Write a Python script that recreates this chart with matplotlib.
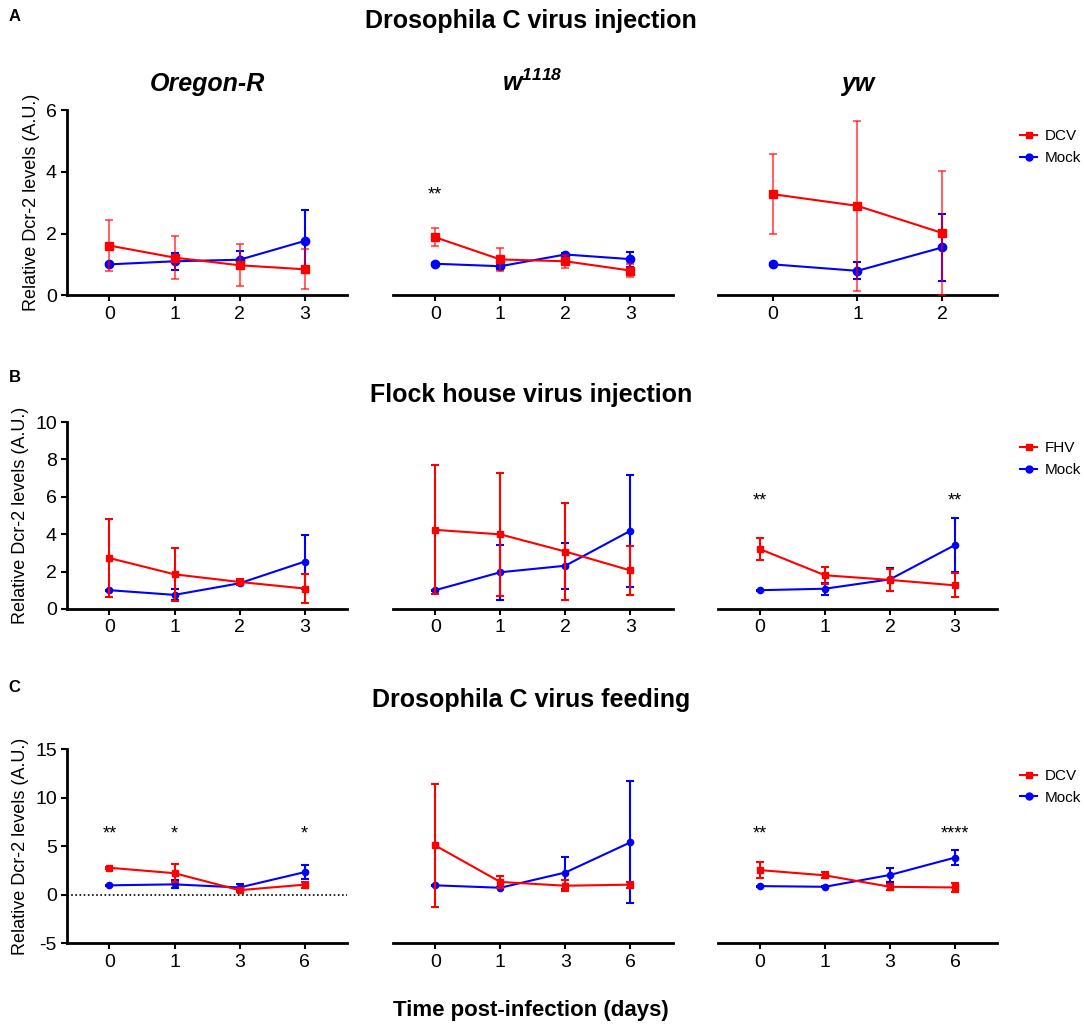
import matplotlib
matplotlib.use("Agg")
import matplotlib.pyplot as plt
from matplotlib.lines import Line2D

plt.rcParams['font.family'] = ['Liberation Sans', 'DejaVu Sans']
plt.rcParams['axes.unicode_minus'] = False
plt.rcParams['mathtext.fontset'] = 'custom'
plt.rcParams['mathtext.bf'] = 'Liberation Sans:italic:bold'
plt.rcParams['mathtext.it'] = 'Liberation Sans:italic:bold'
plt.rcParams['mathtext.rm'] = 'Liberation Sans:italic:bold'

RED = '#FF0000'
BLUE = '#0000FF'

# ---- row A: DCV injection (days 0-3, yw only 0-2)
a_days = [[0, 1, 2, 3], [0, 1, 2, 3], [0, 1, 2]]
a_dcv = [[1.61, 1.22, 0.97, 0.84], [1.88, 1.16, 1.10, 0.80], [3.28, 2.90, 2.02]]
a_dcv_err = [[0.83, 0.70, 0.68, 0.65], [0.29, 0.38, 0.22, 0.20], [1.30, 2.75, 2.00]]
a_mock = [[1.00, 1.10, 1.15, 1.76], [1.02, 0.94, 1.32, 1.17], [1.00, 0.79, 1.55]]
a_mock_err = [[0.03, 0.27, 0.27, 1.02], [0.03, 0.10, 0.05, 0.24], [0.03, 0.28, 1.10]]
a_stars = [[], [(0, '**')], []]

# ---- row B: FHV injection
b_days = [[0, 1, 2, 3], [0, 1, 2, 3], [0, 1, 2, 3]]
b_fhv = [[2.72, 1.85, 1.44, 1.09], [4.23, 3.99, 3.07, 2.06], [3.20, 1.80, 1.55, 1.26]]
b_fhv_err = [[2.08, 1.42, 0.17, 0.77], [3.45, 3.30, 2.60, 1.30], [0.60, 0.45, 0.60, 0.65]]
b_mock = [[1.00, 0.75, 1.37, 2.53], [1.00, 1.96, 2.31, 4.18], [1.00, 1.08, 1.58, 3.42]]
b_mock_err = [[0.03, 0.30, 0.10, 1.45], [0.03, 1.47, 1.23, 3.00], [0.03, 0.32, 0.62, 1.42]]
b_stars = [[], [], [(0, '**'), (3, '**')]]

# ---- row C: DCV feeding (days 0, 1, 3, 6)
c_labels = ['0', '1', '3', '6']
c_dcv = [[2.78, 2.22, 0.47, 1.04], [5.08, 1.32, 0.93, 1.04], [2.54, 2.00, 0.82, 0.75]]
c_dcv_err = [[0.10, 0.95, 0.15, 0.30], [6.35, 0.65, 0.55, 0.32], [0.80, 0.30, 0.30, 0.45]]
c_mock = [[0.97, 1.07, 0.75, 2.33], [0.97, 0.72, 2.29, 5.40], [0.89, 0.82, 2.04, 3.83]]
c_mock_err = [[0.05, 0.40, 0.35, 0.70], [0.05, 0.05, 1.65, 6.30], [0.05, 0.05, 0.70, 0.75]]
c_stars = [[(0, '**'), (1, '*'), (3, '*')], [], [(0, '**'), (3, '****')]]

strains = ['Oregon-R', r'$\mathbf{w^{1118}}$', 'yw']

fig = plt.figure(figsize=(10.84, 10.32), dpi=100)

lefts = [0.062, 0.3625, 0.662]
width = 0.258
rows = [
    dict(bottom=0.714, height=0.179, ylim=(0, 6), yticks=[0, 2, 4, 6], star_y=3.25,
         virus='DCV', days=a_days, v=a_dcv, ve=a_dcv_err, m=a_mock, me=a_mock_err,
         stars=a_stars, ms=6, labels=None, alpha=0.6, leg_y=0.93),
    dict(bottom=0.410, height=0.181, ylim=(0, 10), yticks=[0, 2, 4, 6, 8, 10], star_y=5.75,
         virus='FHV', days=b_days, v=b_fhv, ve=b_fhv_err, m=b_mock, me=b_mock_err,
         stars=b_stars, ms=4.5, labels=None, alpha=1.0, leg_y=0.93),
    dict(bottom=0.086, height=0.188, ylim=(-5, 15), yticks=[-5, 0, 5, 10, 15], star_y=6.3,
         virus='DCV', days=[[0, 1, 2, 3]] * 3, v=c_dcv, ve=c_dcv_err, m=c_mock, me=c_mock_err,
         stars=c_stars, ms=4.5, labels=c_labels, alpha=1.0, leg_y=0.93),
]

for r, row in enumerate(rows):
    for c in range(3):
        ax = fig.add_axes([lefts[c], row['bottom'], width, row['height']])
        x = row['days'][c]
        ax.errorbar(x, row['m'][c], yerr=row['me'][c], color=BLUE, marker='o',
                    ms=row['ms'], lw=1.5, elinewidth=1.5, capsize=3, capthick=1.5,
                    ecolor=BLUE, zorder=3)
        ax.errorbar(x, row['v'][c], yerr=row['ve'][c], color=RED, marker='s',
                    ms=row['ms'], lw=1.5, elinewidth=1.5, capsize=3, capthick=1.5,
                    ecolor=(1, 0, 0, row['alpha']), zorder=4)
        for xi, s in row['stars'][c]:
            ax.text(xi, row['star_y'], s, ha='center', va='center', fontsize=13)
        ax.set_ylim(*row['ylim'])
        ax.set_xlim(-0.65, len(x) - 0.35)
        ax.set_xticks(x)
        if row['labels']:
            ax.set_xticklabels(row['labels'])
        ax.spines['top'].set_visible(False)
        ax.spines['right'].set_visible(False)
        ax.spines['bottom'].set_linewidth(2)
        ax.spines['left'].set_linewidth(2)
        ax.tick_params(axis='both', labelsize=14, width=1.5, length=4, direction='out')
        if c == 0:
            ax.set_yticks(row['yticks'])
            ax.set_ylabel('Relative Dcr-2 levels (A.U.)', fontsize=13)
            if r == 2:
                ax.axhline(0, color='black', lw=1.2, ls=(0, (1, 1.5)), zorder=1)
        else:
            ax.spines['left'].set_visible(False)
            ax.set_yticks([])
        if r == 0:
            ax.set_title(strains[c], fontsize=18, fontweight='bold', style='italic', pad=14)
        if c == 2:
            handles = [
                Line2D([], [], color=RED, marker='s', ms=5, lw=1.5),
                Line2D([], [], color=BLUE, marker='o', ms=5, lw=1.5),
            ]
            ax.legend(handles, [row['virus'], 'Mock'], loc='upper left',
                      bbox_to_anchor=(1.06, row['leg_y']), frameon=False,
                      fontsize=11, handlelength=1.1, handletextpad=0.5,
                      labelspacing=0.5, borderaxespad=0)

fig.text(0.008, 0.984, 'A', fontsize=12, fontweight='bold', va='center')
fig.text(0.008, 0.634, 'B', fontsize=12, fontweight='bold', va='center')
fig.text(0.008, 0.334, 'C', fontsize=12, fontweight='bold', va='center')
fig.text(0.49, 0.980, 'Drosophila C virus injection', fontsize=18, fontweight='bold',
         ha='center', va='center')
fig.text(0.49, 0.617, 'Flock house virus injection', fontsize=18, fontweight='bold',
         ha='center', va='center')
fig.text(0.49, 0.322, 'Drosophila C virus feeding', fontsize=18, fontweight='bold',
         ha='center', va='center')
fig.text(0.49, 0.021, 'Time post-infection (days)', fontsize=16, fontweight='bold',
         ha='center', va='center')

fig.savefig('out.png', dpi=100)
